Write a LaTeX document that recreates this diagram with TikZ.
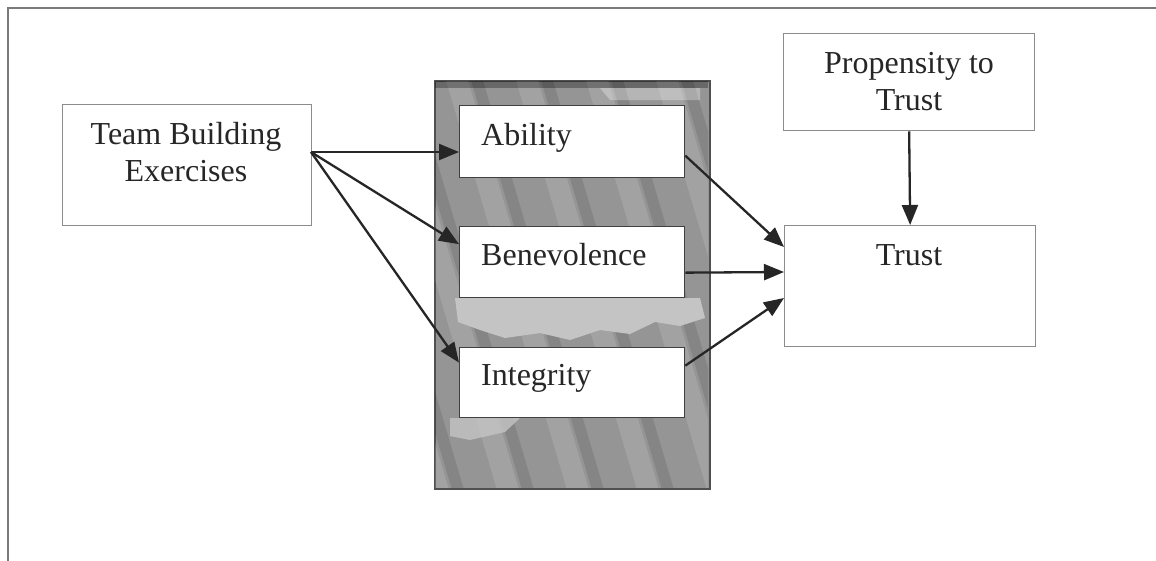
\documentclass[tikz,border=0pt]{standalone}
\usepackage{fontspec}
\setmainfont{Liberation Serif}
\usetikzlibrary{arrows.meta}
\definecolor{boxgray}{HTML}{8C8C8C}
\definecolor{framegray}{HTML}{7A7A7A}
\definecolor{panelgray}{HTML}{959595}
\definecolor{paneldark}{HTML}{505050}
\definecolor{panellight}{HTML}{C4C4C4}
\definecolor{inkgray}{HTML}{262626}
\begin{document}
\begin{tikzpicture}[x=1pt,y=-1pt,
  outerbox/.style={draw=boxgray, line width=1.3pt, fill=white, inner sep=0pt, anchor=north west},
  innerbox/.style={draw=black!75, line width=1.3pt, fill=white, inner sep=0pt, anchor=north west},
  lbl/.style={font=\fontsize{32}{37}\selectfont, inner sep=0pt, align=center, text=inkgray},
  link/.style={draw=inkgray, line width=2.3pt, -{Triangle[length=20pt,width=16pt]}}]

% canvas
\useasboundingbox (0,0) rectangle (1156,560);
\fill[white] (0,0) rectangle (1156,560);
\draw[framegray, line width=2.2pt] (8,570) -- (8,8) -- (1170,8);

% outer boxes
\node[outerbox, minimum width=249pt, minimum height=121pt] (team) at (62,104) {};
\node[outerbox, minimum width=251pt, minimum height=97pt] (prop) at (783,33) {};
\node[outerbox, minimum width=251pt, minimum height=121pt] (trust) at (784,225) {};

% textured panel behind the three factors
\node[draw=paneldark, line width=2pt, fill=panelgray, inner sep=0pt, anchor=north west,
      minimum width=275pt, minimum height=408pt] (panel) at (434,80) {};
\begin{scope}
  \clip (435,81) rectangle (708,487);
  \foreach \s in {0,70,...,490} {
    \fill[white, opacity=0.13] (300+\s,60) -- (322+\s,60) -- (452+\s,500) -- (430+\s,500) -- cycle;
    \fill[black, opacity=0.10] (325+\s,60) -- (337+\s,60) -- (467+\s,500) -- (455+\s,500) -- cycle;
  }
  \fill[panellight] (455,298) -- (700,298) -- (705,318) -- (680,326) -- (655,322) -- (630,334)
        -- (600,330) -- (570,340) -- (540,333) -- (505,338) -- (480,330) -- (458,322) -- cycle;
  \fill[panellight, opacity=0.8] (450,418) -- (520,418) -- (505,432) -- (470,440) -- (450,436) -- cycle;
  \fill[black, opacity=0.3] (434,80) rectangle (709,88);
  \fill[white, opacity=0.3] (600,88) -- (700,88) -- (700,100) -- (610,100) -- cycle;
\end{scope}

% factor boxes
\node[innerbox, minimum width=225pt, minimum height=72pt] (abil) at (459,105) {};
\node[innerbox, minimum width=225pt, minimum height=71pt] (bene) at (459,226) {};
\node[innerbox, minimum width=225pt, minimum height=70pt] (integ) at (459,347) {};

% labels (base anchor of a two-line label sits on its last line)
\node[lbl, anchor=base] (teamtxt) at (186,181) {Team Building\\Exercises};
\node[lbl, anchor=base] (proptxt) at (909,110) {Propensity to\\Trust};
\node[lbl, anchor=base] (trusttxt) at (909,265) {Trust};
\node[lbl, anchor=base west] (abiltxt) at (481,145) {Ability};
\node[lbl, anchor=base west] (benetxt) at (481,265) {Benevolence};
\node[lbl, anchor=base west] (integtxt) at (481,385) {Integrity};

% connectors
\coordinate (src) at (311,152);
\draw[link] (src) -- (abil.west |- src);
\draw[link] (src) -- ([yshift=18pt]bene.west);
\draw[link] (src) -- ([yshift=20pt]integ.west);
\draw[link] ([yshift=-14pt]abil.east) -- ([yshift=-22pt]trust.north west);
\draw[link] ([yshift=-10.5pt]bene.east) -- ([yshift=-47pt]trust.north west);
\draw[link] ([yshift=17pt]integ.east) -- ([yshift=-73pt]trust.north west);
\draw[link] (prop.south) -- (trust.north);
\end{tikzpicture}
\end{document}
